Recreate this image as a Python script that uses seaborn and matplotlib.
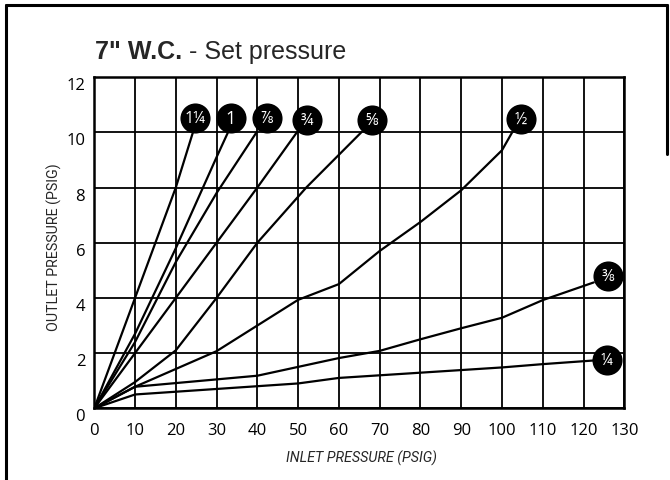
import numpy as np
import pandas as pd
import seaborn as sns
import matplotlib.pyplot as plt
import matplotlib.lines as mlines

# =========================
# DATA
# =========================
sizes = ['1¼', '1', '⅞', '¾', '⅝', '½', '⅜', '¼']

x_1_1_4 = [0, 10, 20, 24.2]
y_1_1_4 = [0, 4.0, 8.0, 10.0]

x_1 = [0, 10, 20, 30, 32.8]
y_1 = [0, 2.7, 5.8, 9.1, 10.0]

x_7_8 = [0, 10, 20, 30, 39.8]
y_7_8 = [0, 2.4, 5.3, 7.8, 10.0]

x_3_4 = [0, 10, 20, 30, 40, 49.7]
y_3_4 = [0, 2.0, 4.0, 6.0, 8.0, 10.0]

x_5_8 = [0, 10, 20, 30, 40, 52, 65.5]
y_5_8 = [0, 0.95, 2.1, 4.0, 6.0, 8.0, 10.0]

x_1_2 = [0, 10, 30, 50, 60, 70, 80, 90, 100, 102.5]
y_1_2 = [0, 0.78, 2.07, 3.93, 4.5, 5.7, 6.75, 7.9, 9.35, 10.0]

x_3_8 = [0, 10, 40, 50, 60, 70, 80, 90, 100, 110, 122.5]
y_3_8 = [0, 0.78, 1.18, 1.5, 1.82, 2.08, 2.5, 2.9, 3.28, 3.92, 4.56]

x_1_4 = [0, 10, 50, 60, 100, 110, 122.3]
y_1_4 = [0, 0.5, 0.9, 1.1, 1.48, 1.6, 1.73]

# circle label positions
label_x = [24.7, 33.5, 42.3, 52.2, 68.2, 104.7, 126.0, 125.7]
label_y = [10.53, 10.53, 10.52, 10.46, 10.46, 10.48, 4.8, 1.75]

x_ticks = list(range(0, 131, 10))
y_ticks = list(range(0, 13, 2))

series_x = [x_1_1_4, x_1, x_7_8, x_3_4, x_5_8, x_1_2, x_3_8, x_1_4]
series_y = [y_1_1_4, y_1, y_7_8, y_3_4, y_5_8, y_1_2, y_3_8, y_1_4]

frames = []
for name, xs, ys in zip(sizes, series_x, series_y):
    frames.append(pd.DataFrame({'size': name, 'inlet': xs, 'outlet': ys}))
df = pd.concat(frames, ignore_index=True)

# =========================
# PLOT
# =========================
sns.set_style('white')
plt.rcParams['font.family'] = ['Liberation Sans', 'DejaVu Sans']

fig = plt.figure(figsize=(6.7, 4.81), dpi=100)
ax = fig.add_axes([0.1407, 0.1491, 0.7911, 0.6885])

sns.lineplot(data=df, x='inlet', y='outlet', hue='size', units='size',
             estimator=None, sort=False, legend=False,
             palette={s: 'black' for s in sizes}, lw=1.6, ax=ax, zorder=3)

sns.scatterplot(x=label_x, y=label_y, s=470, color='black', linewidth=0,
                ax=ax, zorder=5, clip_on=False)

for lab, lx, ly in zip(sizes, label_x, label_y):
    fs = 13 if lab == '1' else 11.5
    ax.text(lx, ly, lab, color='white', ha='center', va='center',
            fontsize=fs, family=['Open Sans', 'DejaVu Sans'], zorder=6)

ax.set_xlim(0, 130)
ax.set_ylim(0, 12)
ax.set_xticks(x_ticks)
ax.set_yticks(y_ticks)
ax.grid(True, color='black', lw=1.3)
ax.set_axisbelow(True)
for sp in ax.spines.values():
    sp.set_color('black')
    sp.set_linewidth(1.8)
ax.tick_params(length=0, labelsize=12, colors='black')
ax.tick_params(axis='x', pad=10)
ax.tick_params(axis='y', pad=6.5)
for t in ax.get_xticklabels() + ax.get_yticklabels():
    t.set_family(['Open Sans', 'DejaVu Sans'])
for t in ax.get_yticklabels():
    t.set_va('top')

ax.set_xlabel('INLET PRESSURE (PSIG)', fontsize=10.3, style='italic',
              family=['Roboto', 'DejaVu Sans'], va='center')
ax.xaxis.set_label_coords(0.505, -0.147)
ax.set_ylabel('OUTLET PRESSURE (PSIG)', fontsize=10.3,
              family=['Roboto', 'DejaVu Sans'], va='center')
ax.yaxis.set_label_coords(-0.075, 0.49)

# title: bold part + normal part
r = fig.canvas.get_renderer()
t1 = fig.text(95 / 670, 1 - 59 / 481, '7" W.C.', fontsize=18, weight='bold',
              va='baseline', ha='left')
bb = t1.get_window_extent(renderer=r)
fig.text(bb.x1 / fig.bbox.width, 1 - 59 / 481, ' - Set pressure', fontsize=18,
         va='baseline', ha='left')

# page frame
lw = 2.2
fig.add_artist(mlines.Line2D([5.5 / 670, 5.5 / 670], [0, 1 - 5.5 / 481],
                             transform=fig.transFigure, color='black', lw=lw))
fig.add_artist(mlines.Line2D([5.5 / 670, 667 / 670], [1 - 5.5 / 481, 1 - 5.5 / 481],
                             transform=fig.transFigure, color='black', lw=lw))
fig.add_artist(mlines.Line2D([667 / 670, 667 / 670], [1 - 5.5 / 481, 1 - 155 / 481],
                             transform=fig.transFigure, color='black', lw=lw))

plt.savefig('out.png', dpi=100)
